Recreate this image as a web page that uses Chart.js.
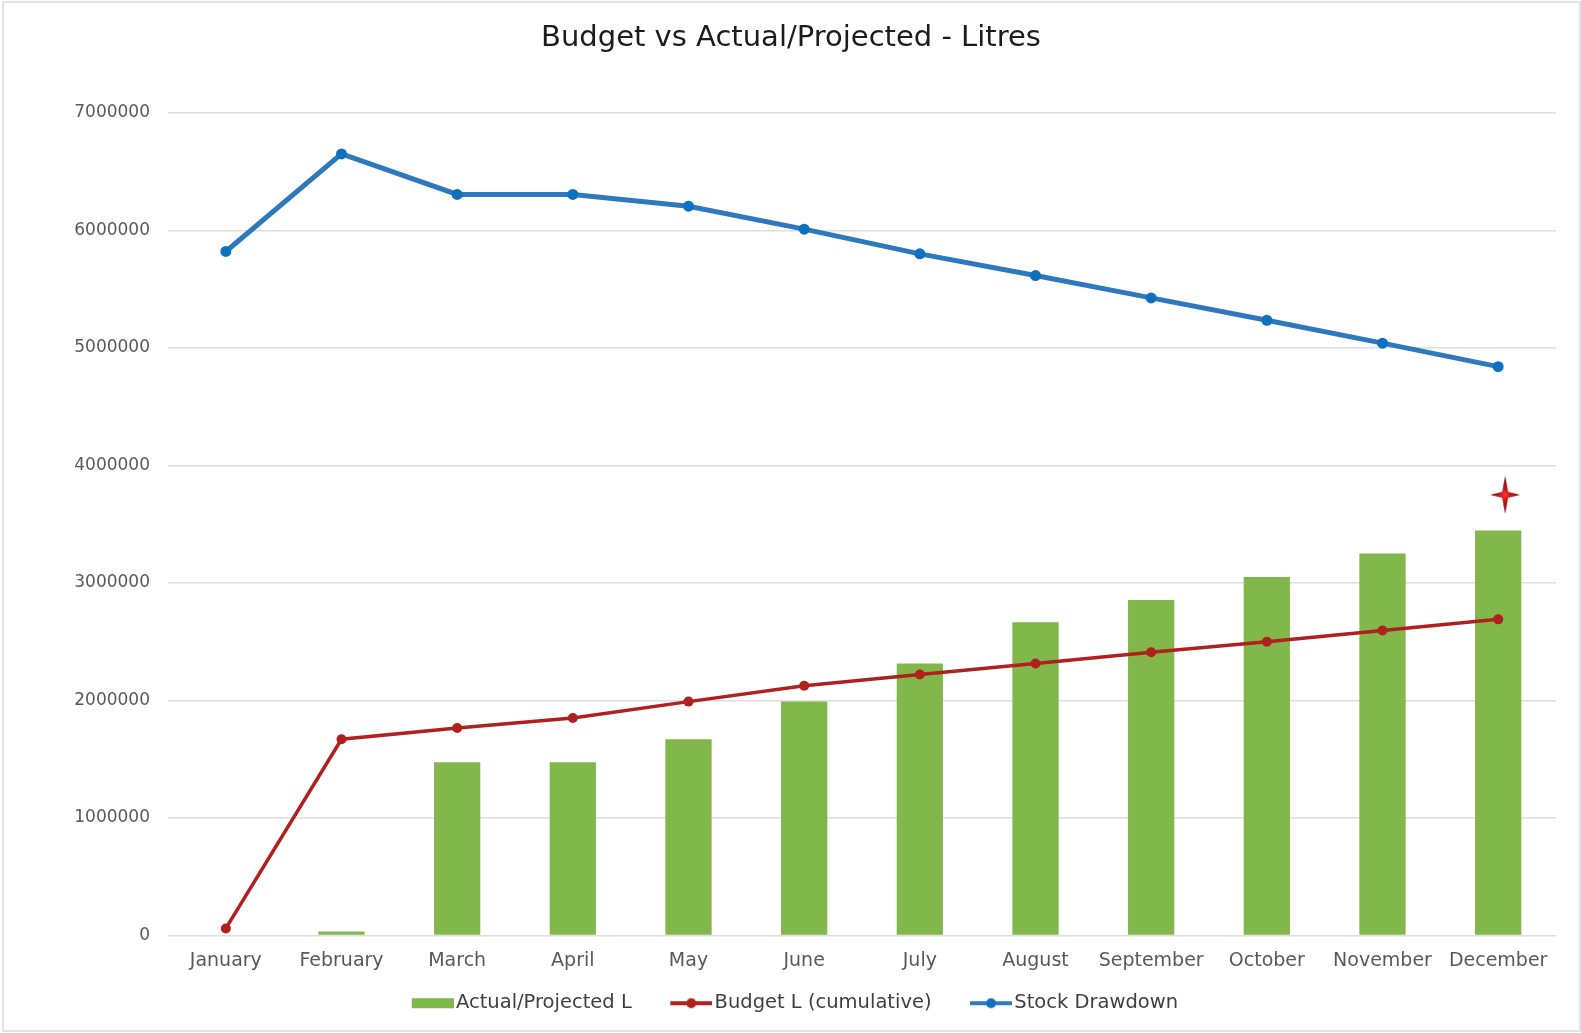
<!DOCTYPE html>
<html>
<head>
<meta charset="utf-8">
<title>Budget vs Actual/Projected - Litres</title>
<script src="https://cdn.jsdelivr.net/npm/chart.js@4/dist/chart.umd.min.js"></script>
<style>
html, body {
	margin: 0;
	padding: 0;
	background: #fff;
}
.wrap {
	position: absolute;
	left: 0;
	top: 0;
	width: 1581px;
	height: 1033px;
}
.frame {
	position: absolute;
	left: 2px;
	top: 1px;
	width: 1575px;
	height: 1027px;
	border: 2px solid #e3e3e3;
	pointer-events: none;
}
</style>
</head>
<body>
<div class="wrap"><canvas id="chart"></canvas></div>
<div class="frame"></div>

<script>
const months = ['January', 'February', 'March', 'April', 'May', 'June', 'July',
	'August', 'September', 'October', 'November', 'December'];

const actualProjected = [0, 35000, 1475000, 1475000, 1670000, 1990000, 2315000,
	2665000, 2855000, 3050000, 3250000, 3445000];

const budgetCumulative = [60000, 1670000, 1765000, 1850000, 1990000, 2125000, 2220000,
	2315000, 2410000, 2500000, 2595000, 2690000];

const stockDrawdown = [5820000, 6650000, 6305000, 6305000, 6205000, 6010000, 5800000,
	5615000, 5425000, 5235000, 5040000, 4840000];

// the little star sitting over December
const starValue = [null, null, null, null, null, null, null, null, null, null, null, 3750000];

const yTicks = [0, 1000000, 2000000, 3000000, 4000000, 5000000, 6000000, 7000000];

const green = '#82b74b';
const red = '#b0201f';
const blue = '#2e78bd';
const blueDot = '#0f70c0';
const font = "'DejaVu Sans', sans-serif";

// legend swatch: 42px visible, drawn at the right of a wider transparent canvas
// so the gap to the text stays small like in the original
function legendIcon(kind, color, dot) {
	const c = document.createElement('canvas');
	c.width = 82;
	c.height = 12;
	const ctx = c.getContext('2d');
	const x0 = 40;
	if (kind == 'box') {
		ctx.fillStyle = color;
		ctx.fillRect(x0, 1, 42, 10);
	} else {
		ctx.strokeStyle = color;
		ctx.lineWidth = 4;
		ctx.beginPath();
		ctx.moveTo(x0, 6);
		ctx.lineTo(x0 + 42, 6);
		ctx.stroke();
		ctx.fillStyle = dot;
		ctx.beginPath();
		ctx.arc(x0 + 21, 6, 5, 0, Math.PI * 2);
		ctx.fill();
	}
	return c;
}

function starIcon() {
	const c = document.createElement('canvas');
	c.width = 46;
	c.height = 40;
	const ctx = c.getContext('2d');
	const cx = 30, cy = 20;
	const g = ctx.createRadialGradient(cx, cy, 0, cx, cy, 17);
	g.addColorStop(0, '#ff3434');
	g.addColorStop(0.35, '#c01818');
	g.addColorStop(1, '#5a0808');
	ctx.fillStyle = g;
	ctx.beginPath();
	ctx.moveTo(cx, cy - 19);
	ctx.lineTo(cx + 3, cy - 3);
	ctx.lineTo(cx + 15, cy);
	ctx.lineTo(cx + 3, cy + 3);
	ctx.lineTo(cx, cy + 19);
	ctx.lineTo(cx - 3, cy + 3);
	ctx.lineTo(cx - 15, cy);
	ctx.lineTo(cx - 3, cy - 3);
	ctx.closePath();
	ctx.fill();
	return c;
}

const icons = [
	legendIcon('box', green),
	legendIcon('line', red, red),
	legendIcon('line', blue, blueDot),
];

new Chart(document.getElementById('chart'), {
	data: {
		labels: months,
		datasets: [
			{
				type: 'bar',
				label: 'Actual/Projected L',
				data: actualProjected,
				backgroundColor: green,
				barPercentage: 0.8,
				categoryPercentage: 0.5,
				order: 3,
			},
			{
				type: 'line',
				label: 'Budget L (cumulative)',
				data: budgetCumulative,
				borderColor: red,
				backgroundColor: red,
				borderWidth: 3.5,
				pointRadius: 5,
				pointBackgroundColor: red,
				pointBorderWidth: 0,
				order: 1,
			},
			{
				type: 'line',
				label: 'Stock Drawdown',
				data: stockDrawdown,
				borderColor: blue,
				backgroundColor: blueDot,
				borderWidth: 5,
				pointRadius: 5.5,
				pointBackgroundColor: blueDot,
				pointBorderWidth: 0,
				order: 2,
			},
			{
				type: 'line',
				label: 'star',
				data: starValue,
				showLine: false,
				pointStyle: starIcon(),
				order: 0,
			},
		]
	},
	options: {
		responsive: true,
		maintainAspectRatio: false,
		animation: false,
		layout: {
			padding: {left: 26, right: 25, top: 0, bottom: 10},
		},
		plugins: {
			title: {
				display: true,
				text: 'Budget vs Actual/Projected - Litres',
				color: '#1c1c1c',
				font: {family: font, size: 29, weight: 'normal'},
				padding: {top: 21, bottom: 57},
			},
			legend: {
				position: 'bottom',
				labels: {
					color: '#404040',
					font: {family: font, size: 19.5},
					usePointStyle: true,
					pointStyleWidth: 67,
					padding: 6,
					// trailing spaces on the last entry nudge the row left a bit
					generateLabels: chart => chart.data.datasets.slice(0, 3).map((ds, i) => ({
						text: i == 2 ? ds.label + '    ' : ds.label,
						pointStyle: icons[i],
						datasetIndex: i,
						fontColor: '#404040',
						lineWidth: 0,
						strokeStyle: 'transparent',
						fillStyle: 'transparent',
					})),
				},
			},
			tooltip: {enabled: false},
		},
		scales: {
			x: {
				grid: {display: false, drawTicks: false},
				border: {display: false},
				ticks: {
					color: '#595959',
					font: {family: font, size: 19},
					padding: 14.6,
					maxRotation: 0,
				},
			},
			y: {
				min: 0,
				max: 7000000,
				afterFit: scale => { scale.width = 142; },
				afterBuildTicks: scale => { scale.ticks = yTicks.map(v => ({value: v})); },
				grid: {color: '#dedede', lineWidth: 1.5, drawTicks: false},
				border: {display: false},
				ticks: {
					color: '#595959',
					font: {family: font, size: 17},
					padding: 18,
					callback: v => String(v),
				},
			},
		},
	}
});
</script>
</body>
</html>
